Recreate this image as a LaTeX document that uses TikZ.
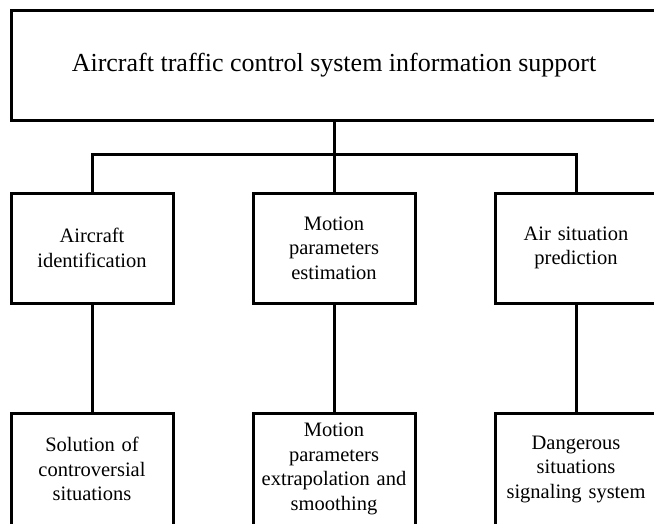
\documentclass[tikz,border=0pt]{standalone}
\usepackage{fontspec}
\setmainfont{Liberation Serif}
\usepackage{tikz}

\begin{document}
\begin{tikzpicture}[x=1pt, y=-1pt,
		box/.style={draw=black, line width=3pt, rectangle, align=center,
			minimum width=162pt, inner sep=0pt, text width=156pt,
			font=\fontsize{20.5}{24.5}\selectfont},
		link/.style={draw=black, line width=3pt}]
		\useasboundingbox (0,0) rectangle (654,523);
		\clip (0,0) rectangle (654,523);
		% top level
		\node[draw=black, line width=3pt, minimum width=646pt, minimum height=110pt,
			font=\fontsize{26}{30}\selectfont] (atc) at (334,65) {Aircraft traffic control system information support};
		% first row
		\node[box, minimum height=110pt] (ident) at (92,248) {Aircraft\\identification};
		\node[box, minimum height=110pt] (motion) at (334,248) {Motion\\parameters\\estimation};
		\node[box, minimum height=110pt] (predict) at (576,248) {Air situation\\prediction};
		% second row
		\node[box, minimum height=112pt] (solve) at (92,469) {Solution of\\controversial\\situations};
		\node[box, minimum height=112pt] (extrap) at (334,469) {Motion\\parameters\\extrapolation and\\smoothing};
		\node[box, minimum height=112pt] (danger) at (576,469) {Dangerous\\situations\\signaling system};
		% connectors
		\coordinate (bus) at (334,154);
		\draw[link] (atc.south) -- (motion.north);
		\draw[link] (ident.north) |- (bus) -| (predict.north);
		\draw[link] (ident) -- (solve);
		\draw[link] (motion) -- (extrap);
		\draw[link] (predict) -- (danger);
	\end{tikzpicture}
\end{document}
